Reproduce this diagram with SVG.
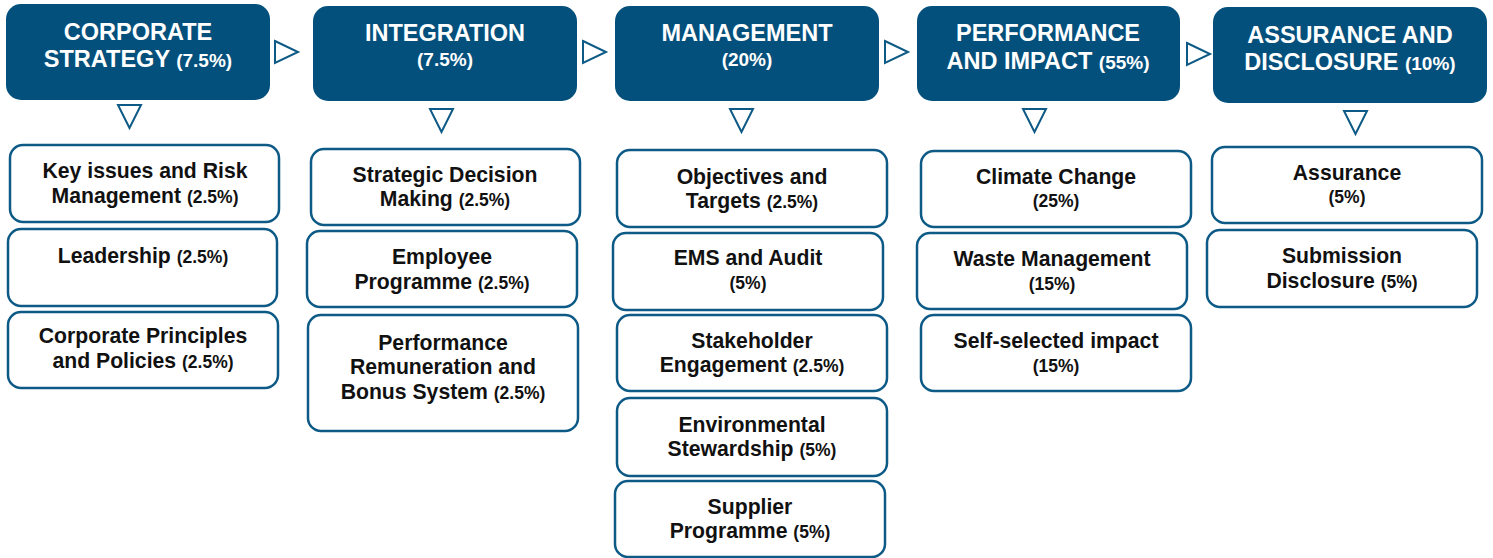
<svg xmlns="http://www.w3.org/2000/svg" width="1493" height="558" viewBox="0 0 1493 558">
<style>
.hd{fill:#04507c}
.bx{fill:#fff;stroke:#0e5a86;stroke-width:2.5}
.tri{fill:#fff;stroke:#0e5a86;stroke-width:2}
.ht{font-family:"Liberation Sans",Arial,sans-serif;font-weight:bold;font-size:23.5px;fill:#fff;text-anchor:middle}
.hp{font-size:19px}
.t{font-family:"Liberation Sans",Arial,sans-serif;font-weight:bold;font-size:21.2px;fill:#111;text-anchor:middle}
.p{font-size:17.5px}
</style>
<rect width="1493" height="558" fill="#fff"/>
<g id="connectors">
<polygon class="tri" points="275,41 298,52 275,63"/>
<polygon class="tri" points="583,41 606,52 583,63"/>
<polygon class="tri" points="885,41 908,52 885,63"/>
<polygon class="tri" points="1187,43 1210,54 1187,65"/>
<polygon class="tri" points="118,105 141,105 129.5,128"/>
<polygon class="tri" points="430,109 453,109 441.5,132"/>
<polygon class="tri" points="730,109 753,109 741.5,132"/>
<polygon class="tri" points="1023,109 1046,109 1034.5,132"/>
<polygon class="tri" points="1344,111 1367,111 1355.5,134"/>
</g>
<g id="h1"><rect class="hd" x="6" y="4" width="264" height="96" rx="15"/><text class="ht" x="138" y="40">CORPORATE</text><text class="ht" x="138" y="67">STRATEGY <tspan class="hp">(7.5%)</tspan></text></g>
<g id="h2"><rect class="hd" x="313" y="6" width="264" height="95" rx="15"/><text class="ht" x="445" y="41">INTEGRATION</text><text class="ht hp" x="445" y="66">(7.5%)</text></g>
<g id="h3"><rect class="hd" x="615" y="6" width="264" height="95" rx="15"/><text class="ht" x="747" y="41">MANAGEMENT</text><text class="ht hp" x="747" y="66">(20%)</text></g>
<g id="h4"><rect class="hd" x="917" y="6" width="263" height="95" rx="15"/><text class="ht" x="1048" y="41">PERFORMANCE</text><text class="ht" x="1048" y="69">AND IMPACT <tspan class="hp">(55%)</tspan></text></g>
<g id="h5"><rect class="hd" x="1213" y="7" width="274" height="96" rx="15"/><text class="ht" x="1350" y="43">ASSURANCE AND</text><text class="ht" x="1350" y="70">DISCLOSURE <tspan class="hp">(10%)</tspan></text></g>

<g id="c1a"><rect class="bx" x="10" y="145" width="269" height="77" rx="13"/><text class="t" x="145" y="178">Key issues and Risk</text><text class="t" x="145" y="203">Management <tspan class="p">(2.5%)</tspan></text></g>
<g id="c1b"><rect class="bx" x="8" y="229" width="269" height="77" rx="13"/><text class="t" x="143" y="263">Leadership <tspan class="p">(2.5%)</tspan></text></g>
<g id="c1c"><rect class="bx" x="8" y="312" width="270" height="76" rx="13"/><text class="t" x="143" y="343">Corporate Principles</text><text class="t" x="143" y="368">and Policies <tspan class="p">(2.5%)</tspan></text></g>

<g id="c2a"><rect class="bx" x="311" y="149" width="269" height="76" rx="13"/><text class="t" x="445" y="182">Strategic Decision</text><text class="t" x="445" y="206">Making <tspan class="p">(2.5%)</tspan></text></g>
<g id="c2b"><rect class="bx" x="307" y="231" width="270" height="76" rx="13"/><text class="t" x="442" y="264">Employee</text><text class="t" x="442" y="289">Programme <tspan class="p">(2.5%)</tspan></text></g>
<g id="c2c"><rect class="bx" x="308" y="315" width="270" height="116" rx="13"/><text class="t" x="443" y="350">Performance</text><text class="t" x="443" y="374">Remuneration and</text><text class="t" x="443" y="399">Bonus System <tspan class="p">(2.5%)</tspan></text></g>

<g id="c3a"><rect class="bx" x="617" y="150" width="270" height="77" rx="13"/><text class="t" x="752" y="184">Objectives and</text><text class="t" x="752" y="208">Targets <tspan class="p">(2.5%)</tspan></text></g>
<g id="c3b"><rect class="bx" x="613" y="233" width="270" height="77" rx="13"/><text class="t" x="748" y="265">EMS and Audit</text><text class="t p" x="748" y="289">(5%)</text></g>
<g id="c3c"><rect class="bx" x="617" y="315" width="270" height="76" rx="13"/><text class="t" x="752" y="348">Stakeholder</text><text class="t" x="752" y="372">Engagement <tspan class="p">(2.5%)</tspan></text></g>
<g id="c3d"><rect class="bx" x="617" y="398" width="270" height="78" rx="13"/><text class="t" x="752" y="432">Environmental</text><text class="t" x="752" y="456">Stewardship <tspan class="p">(5%)</tspan></text></g>
<g id="c3e"><rect class="bx" x="615" y="481" width="270" height="76" rx="13"/><text class="t" x="750" y="514">Supplier</text><text class="t" x="750" y="538">Programme <tspan class="p">(5%)</tspan></text></g>

<g id="c4a"><rect class="bx" x="921" y="151" width="270" height="76" rx="13"/><text class="t" x="1056" y="184">Climate Change</text><text class="t p" x="1056" y="207">(25%)</text></g>
<g id="c4b"><rect class="bx" x="917" y="233" width="270" height="76" rx="13"/><text class="t" x="1052" y="266">Waste Management</text><text class="t p" x="1052" y="290">(15%)</text></g>
<g id="c4c"><rect class="bx" x="921" y="315" width="270" height="76" rx="13"/><text class="t" x="1056" y="348">Self-selected impact</text><text class="t p" x="1056" y="372">(15%)</text></g>

<g id="c5a"><rect class="bx" x="1212" y="147" width="270" height="76" rx="13"/><text class="t" x="1347" y="180">Assurance</text><text class="t p" x="1347" y="203">(5%)</text></g>
<g id="c5b"><rect class="bx" x="1207" y="230" width="270" height="77" rx="13"/><text class="t" x="1342" y="263">Submission</text><text class="t" x="1342" y="288">Disclosure <tspan class="p">(5%)</tspan></text></g>
</svg>
